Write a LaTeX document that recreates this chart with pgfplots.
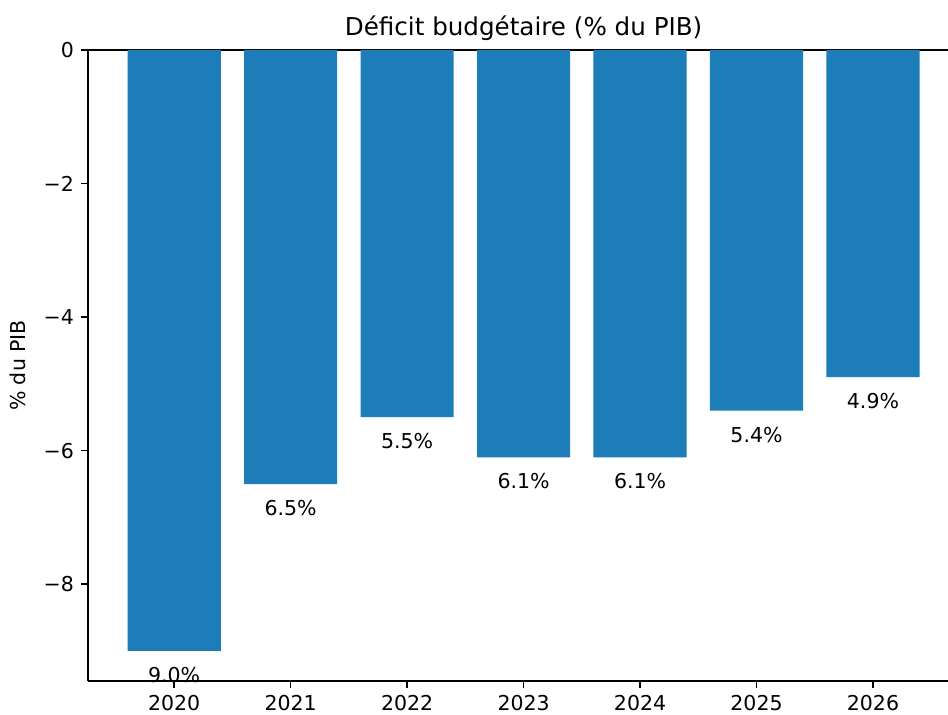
\documentclass[border=0pt]{standalone}
\usepackage{pgfplots}
\pgfplotsset{compat=1.18}
\usepackage{fontspec}
\setmainfont{DejaVu Sans}
\definecolor{barblue}{RGB}{28,125,185}
\begin{document}
\begin{tikzpicture}
\begin{axis}[
  scale only axis,
  width=430pt, height=315.5pt,
  xmin=-0.74, xmax=6.644,
  ymin=-9.45, ymax=0,
  axis y line*=left,
  axis line style={line width=0.8pt},
  tick style={line width=0.8pt, black},
  tick align=outside,
  tick pos=left,
  major tick length=3.5pt,
  xtick={0,1,2,3,4,5,6},
  xticklabels={2020,2021,2022,2023,2024,2025,2026},
  ytick={-8,-6,-4,-2,0},
  yticklabels={−8,−6,−4,−2,0},
  ticklabel style={font=\fontsize{10.25}{12}\selectfont},
  /pgf/number format/assume math mode=true,
  clip=false,
  ybar, bar width=0.8,
  point meta=explicit symbolic,
  nodes near coords,
  every node near coord/.style={anchor=center, yshift=-12pt, font=\fontsize{10.25}{12}\selectfont, black},
]
\addplot[fill=barblue, draw=none] coordinates {
  (0,-9.0) [9.0\%]
  (1,-6.5) [6.5\%]
  (2,-5.5) [5.5\%]
  (3,-6.1) [6.1\%]
  (4,-6.1) [6.1\%]
  (5,-5.4) [5.4\%]
  (6,-4.9) [4.9\%]
};
\coordinate (ll) at (rel axis cs:0,0);
\coordinate (ur) at (rel axis cs:1,1);
\node[anchor=center, font=\fontsize{12.3}{14}\selectfont] at ([yshift=11pt]axis cs:3,0) {Déficit budgétaire (\% du PIB)};
\node[rotate=90, anchor=center, font=\fontsize{10.25}{12}\selectfont] at ([xshift=-35pt]rel axis cs:0,0.5) {\% du PIB};
\end{axis}
\pgfresetboundingbox
\useasboundingbox ([xshift=-44pt,yshift=-17pt]ll) rectangle ([yshift=25pt]ur);
\end{tikzpicture}
\end{document}
